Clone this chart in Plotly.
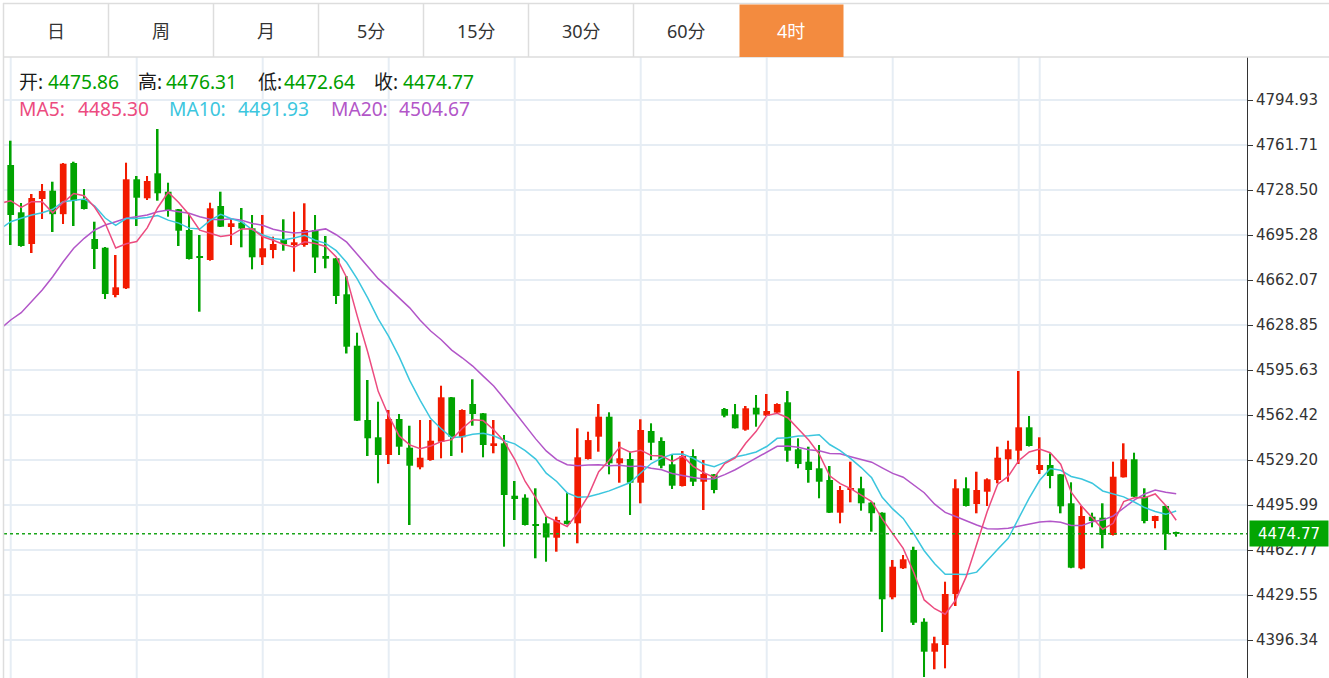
import plotly.graph_objects as go

# ---------------- data (4-hour candles, 1-based index) ----------------
opens = [4746.95, 4712.04, 4688.64, 4721.86, 4727.98, 4710.65, 4748.43, 4721.86, 4692.33, 4685.91,
         4650.99, 4655.94, 4736.40, 4722.37, 4740.82, 4727.24, 4714.25, 4698.97, 4679.27, 4676.83,
         4716.69, 4701.19, 4704.36, 4700.23, 4678.82, 4684.21, 4692.11, 4687.90, 4687.90, 4698.97,
         4679.78, 4678.08, 4651.51, 4613.57, 4558.73, 4545.96, 4532.90, 4559.47, 4538.28, 4523.81,
         4529.20, 4542.71, 4575.48, 4545.96, 4570.54, 4563.67, 4540.27, 4541.52, 4502.85, 4501.38,
         4481.96, 4482.47, 4471.84, 4484.40, 4482.47, 4529.94, 4546.40, 4561.17, 4526.76, 4529.94,
         4512.44, 4550.60, 4543.23, 4526.03, 4510.01, 4532.15, 4513.18, 4518.64, 4566.85, 4562.94,
         4551.56, 4567.81, 4562.05, 4564.18, 4571.79, 4537.10, 4527.95, 4523.07, 4514.44, 4490.30,
         4507.06, 4508.31, 4497.75, 4490.30, 4427.85, 4449.25, 4462.77, 4409.84, 4387.70, 4392.65,
         4430.29, 4508.31, 4496.73, 4505.80, 4514.44, 4529.72, 4536.07, 4553.34, 4521.82, 4525.51,
         4518.64, 4497.24, 4449.25, 4487.35, 4486.61, 4473.84, 4516.43, 4529.72, 4502.11, 4484.17,
         4495.25, 4475.86]
highs = [4764.88, 4718.90, 4725.55, 4732.93, 4734.62, 4748.43, 4749.39, 4729.24, 4705.10, 4686.43,
         4680.52, 4748.65, 4738.83, 4738.83, 4773.52, 4733.89, 4714.48, 4711.52, 4695.28, 4719.12,
         4727.24, 4707.61, 4715.21, 4710.05, 4710.05, 4694.03, 4706.87, 4712.48, 4718.68, 4710.05,
         4694.54, 4678.31, 4664.98, 4623.16, 4588.25, 4572.23, 4566.11, 4563.16, 4554.51, 4558.73,
         4558.73, 4584.04, 4575.70, 4566.62, 4588.77, 4563.90, 4558.73, 4547.65, 4513.70, 4503.89,
         4508.31, 4487.35, 4487.35, 4505.10, 4552.60, 4550.09, 4570.54, 4564.41, 4542.71, 4535.33,
         4559.24, 4556.29, 4545.96, 4533.63, 4535.85, 4537.10, 4529.20, 4518.86, 4567.59, 4570.54,
         4569.06, 4577.18, 4577.92, 4571.06, 4580.13, 4545.22, 4539.02, 4540.27, 4524.77, 4510.01,
         4527.95, 4516.87, 4498.05, 4490.60, 4455.39, 4459.08, 4465.21, 4412.36, 4398.77, 4439.37,
         4514.95, 4516.43, 4520.56, 4515.69, 4539.02, 4543.45, 4594.90, 4561.68, 4545.96, 4534.15,
         4518.86, 4512.74, 4495.25, 4490.30, 4497.24, 4527.95, 4541.52, 4534.59, 4508.31, 4488.08,
         4495.47, 4476.31]
lows = [4687.90, 4686.64, 4681.99, 4707.09, 4697.49, 4703.40, 4701.93, 4714.11, 4670.18, 4648.04,
        4649.29, 4655.42, 4701.93, 4721.12, 4720.60, 4708.79, 4687.16, 4677.20, 4638.67, 4676.31,
        4701.19, 4687.90, 4686.20, 4669.96, 4673.14, 4678.08, 4683.69, 4668.19, 4686.64, 4667.23,
        4670.70, 4644.35, 4607.83, 4557.99, 4532.15, 4512.00, 4526.25, 4532.90, 4481.22, 4522.33,
        4528.68, 4530.46, 4532.15, 4534.59, 4554.51, 4531.19, 4534.15, 4465.21, 4484.91, 4480.85,
        4456.65, 4454.13, 4461.52, 4481.59, 4467.72, 4529.57, 4535.33, 4518.64, 4512.44, 4488.60,
        4497.24, 4529.20, 4523.07, 4507.80, 4509.64, 4510.01, 4492.30, 4504.62, 4560.72, 4552.45,
        4550.83, 4553.78, 4561.68, 4563.90, 4527.95, 4523.07, 4512.44, 4500.93, 4490.08, 4482.47,
        4497.97, 4491.79, 4476.28, 4402.25, 4426.38, 4448.74, 4407.41, 4369.03, 4374.72, 4375.44,
        4421.44, 4494.88, 4489.85, 4495.25, 4512.00, 4513.18, 4526.25, 4539.17, 4518.86, 4508.31,
        4489.85, 4449.33, 4448.52, 4479.53, 4464.01, 4473.47, 4516.28, 4501.89, 4482.47, 4478.79,
        4462.77, 4472.64]
closes = [4710.05, 4687.16, 4722.60, 4727.76, 4710.65, 4747.91, 4720.60, 4714.48, 4684.95, 4651.73,
          4656.67, 4736.40, 4722.81, 4735.14, 4726.06, 4713.74, 4698.45, 4677.57, 4678.31, 4714.99,
          4701.41, 4703.92, 4700.08, 4678.82, 4685.47, 4688.64, 4688.64, 4689.89, 4698.97, 4678.67,
          4677.79, 4650.26, 4612.83, 4558.20, 4545.22, 4532.90, 4559.47, 4539.02, 4524.99, 4530.89,
          4543.45, 4575.48, 4546.40, 4566.11, 4563.16, 4540.27, 4541.52, 4503.37, 4500.41, 4481.22,
          4480.71, 4471.99, 4484.91, 4481.96, 4531.19, 4543.91, 4561.17, 4526.76, 4530.46, 4512.44,
          4551.34, 4541.96, 4524.99, 4510.23, 4532.15, 4513.18, 4518.86, 4507.06, 4561.90, 4552.60,
          4567.36, 4562.79, 4565.37, 4570.54, 4536.07, 4526.25, 4521.82, 4513.18, 4490.30, 4507.06,
          4508.31, 4497.24, 4489.93, 4426.38, 4450.44, 4455.91, 4409.11, 4387.70, 4393.90, 4430.29,
          4508.31, 4495.25, 4507.06, 4514.95, 4530.89, 4537.10, 4553.34, 4539.54, 4525.51, 4517.39,
          4495.03, 4449.70, 4487.87, 4484.17, 4473.84, 4516.87, 4529.72, 4502.11, 4484.17, 4487.87,
          4474.58, 4474.77]
candle_idx = list(range(1, len(closes) + 1))

# moving-average values at the start of the window (they
# depend on candles before the visible range); position 0 is the clipped candle
ma5_lead = [4718.68, 4720.60, 4715.73, 4719.86, 4719.86]
ma10_lead = [4699.71, 4705.10, 4707.61, 4710.05, 4711.75, 4714.25, 4719.86, 4721.12, 4721.86, 4716.69]
ma20_lead = [4625.90, 4632.54, 4637.93, 4646.05, 4654.69, 4664.50, 4675.57, 4685.46, 4692.85, 4698.97,
             4702.66, 4705.10, 4707.61, 4708.79, 4710.05, 4712.48, 4713.74, 4712.48, 4711.30, 4708.79]

ma_header = [4485.30, 4491.93, 4504.67]
y_ticks = [4794.93, 4761.71, 4728.50, 4695.28, 4662.07, 4628.85, 4595.63, 4562.42,
           4529.20, 4495.99, 4462.77, 4429.55, 4396.34]
session_idx = [1, 13, 25, 37, 49, 61, 73, 85, 97, 99]
tabs = ["日", "周", "月", "5分", "15分", "30分", "60分", "4时"]
active_tab = "4时"
last_price = closes[-1]

# ---------------- styles ----------------
UP = "#f21a00"
DOWN = "#00a300"
C_MA5 = "#ec4b7f"
C_MA10 = "#3cc6de"
C_MA20 = "#b256c8"
GRID = "#e6edf4"

W, H = 1329, 678
PL, PR, PT, PB = 4, 1247, 57, 678


def fx(px):
    return (px - PL) / (PR - PL)


def fy(py):
    return (PB - py) / (PB - PT)


def moving_avg(vals, n, lead):
    out = list(lead)
    for p in range(n, len(vals) + 1):
        out.append(sum(vals[p - n:p]) / n)
    return out


ma5 = moving_avg(closes, 5, ma5_lead)
ma10 = moving_avg(closes, 10, ma10_lead)
ma20 = moving_avg(closes, 20, ma20_lead)
ma_x = list(range(0, len(closes) + 1))

colors = [UP if c >= o else DOWN for o, c in zip(opens, closes)]
body_base = [min(o, c) for o, c in zip(opens, closes)]
body_h = [max(abs(c - o), 1.0) for o, c in zip(opens, closes)]
wick_h = [h - l for h, l in zip(highs, lows)]

fig = go.Figure()
fig.add_trace(go.Bar(x=candle_idx, y=wick_h, base=lows, width=0.16,
                     marker=dict(color=colors, line=dict(width=0)), hoverinfo="skip"))
fig.add_trace(go.Bar(x=candle_idx, y=body_h, base=body_base, width=0.64,
                     marker=dict(color=colors, line=dict(width=0)), hoverinfo="skip"))
for vals, col in [(ma20, C_MA20), (ma10, C_MA10), (ma5, C_MA5)]:
    fig.add_trace(go.Scatter(x=ma_x, y=vals, mode="lines",
                             line=dict(color=col, width=1.5), hoverinfo="skip"))

shapes = []
for s in session_idx:
    shapes.append(dict(type="line", xref="x", yref="paper", x0=s, x1=s, y0=0, y1=1,
                       line=dict(color=GRID, width=2), layer="below"))
shapes.append(dict(type="line", xref="paper", yref="y", x0=0, x1=1, y0=last_price, y1=last_price,
                   line=dict(color="#1aa51a", width=1.5, dash="3px,3px")))
BORDER = "#dddddd"
shapes.append(dict(type="line", xref="paper", yref="paper", x0=fx(3), x1=fx(1329),
                   y0=fy(3.5), y1=fy(3.5), line=dict(color=BORDER, width=1.5)))
shapes.append(dict(type="line", xref="paper", yref="paper", x0=fx(3), x1=fx(1329),
                   y0=fy(57), y1=fy(57), line=dict(color=BORDER, width=1.5)))
shapes.append(dict(type="line", xref="paper", yref="paper", x0=fx(3.5), x1=fx(3.5),
                   y0=fy(3), y1=fy(678), line=dict(color=BORDER, width=1.5)))
tab_w = 105
tab_left = 3.5
annotations = []
for i, t in enumerate(tabs):
    x0 = tab_left + i * tab_w
    x1 = x0 + tab_w
    if t == active_tab:
        shapes.append(dict(type="rect", xref="paper", yref="paper", x0=fx(x0 + 1), x1=fx(x1),
                           y0=fy(57), y1=fy(4.5), fillcolor="#f38b3f", line=dict(width=0)))
        fc = "#ffffff"
    else:
        fc = "#333333"
    if i > 0 and t != active_tab:
        shapes.append(dict(type="line", xref="paper", yref="paper", x0=fx(x0), x1=fx(x0),
                           y0=fy(4), y1=fy(57), line=dict(color=BORDER, width=1.5)))
    annotations.append(dict(xref="paper", yref="paper", x=fx((x0 + x1) / 2), y=fy(31),
                            text=t, showarrow=False, xanchor="center", yanchor="middle",
                            font=dict(family="Noto Sans, Noto Sans CJK SC", size=18, color=fc)))

# OHLC header
GREEN_TXT = "#00a000"
FONT_HDR = "Noto Sans, Noto Sans CJK SC"
ohlc_labels = ["开:", "高:", "低:", "收:"]
ohlc_vals = [opens[-1], highs[-1], lows[-1], closes[-1]]
ohlc_lab_x = [17, 136, 256, 372]
ohlc_val_x = [46, 164, 282, 401]
for lab, v, lx, vx in zip(ohlc_labels, ohlc_vals, ohlc_lab_x, ohlc_val_x):
    annotations.append(dict(xref="paper", yref="paper", x=fx(lx), y=fy(82), xanchor="left",
                            yanchor="middle", showarrow=False, text=lab,
                            font=dict(family=FONT_HDR, size=19, color="#1a1a1a")))
    annotations.append(dict(xref="paper", yref="paper", x=fx(vx), y=fy(82), xanchor="left",
                            yanchor="middle", showarrow=False, text=f"{v:.2f}",
                            font=dict(family=FONT_HDR, size=19.2, color=GREEN_TXT)))
ma_names = ["MA5:", "MA10:", "MA20:"]
ma_cols = [C_MA5, C_MA10, C_MA20]
ma_lab_x = [17, 167, 329]
ma_val_x = [76, 236, 397]
for nm, v, col, lx, vx in zip(ma_names, ma_header, ma_cols, ma_lab_x, ma_val_x):
    annotations.append(dict(xref="paper", yref="paper", x=fx(lx), y=fy(108), xanchor="left",
                            yanchor="middle", showarrow=False, text=nm,
                            font=dict(family="Noto Sans", size=19.2, color=col)))
    annotations.append(dict(xref="paper", yref="paper", x=fx(vx), y=fy(108), xanchor="left",
                            yanchor="middle", showarrow=False, text=f"{v:.2f}",
                            font=dict(family="Noto Sans", size=19.2, color=col)))
# last price tag
annotations.append(dict(xref="paper", yref="y", x=1, y=last_price, xanchor="left", yanchor="middle",
                        xshift=2, showarrow=False, text=f"{last_price:.2f}", bgcolor="#03a503",
                        width=74, height=21, borderpad=2, align="center",
                        font=dict(family="DejaVu Sans", size=15, color="#ffffff")))

fig.update_layout(
    width=W, height=H,
    margin=dict(l=PL, r=W - PR, t=PT, b=H - PB, pad=0),
    paper_bgcolor="white", plot_bgcolor="white",
    showlegend=False, barmode="overlay", hovermode=False,
    shapes=shapes, annotations=annotations,
    xaxis=dict(range=[(PL - 0.2) / 10.5, (PR - 0.2) / 10.5], showgrid=False, zeroline=False,
               showticklabels=False, showline=False, fixedrange=True),
    yaxis=dict(range=[4368.29, 4826.67], side="right", tickvals=y_ticks,
               ticktext=[f"{v:.2f}" for v in y_ticks], showgrid=True, gridcolor=GRID, gridwidth=2,
               zeroline=False, showline=True, linecolor="#333333", linewidth=1,
               ticks="outside", ticklen=5, tickcolor="#333333", tickwidth=1,
               tickfont=dict(family="DejaVu Sans", size=15, color="#333333"), fixedrange=True),
)

fig.write_html("out.html")
